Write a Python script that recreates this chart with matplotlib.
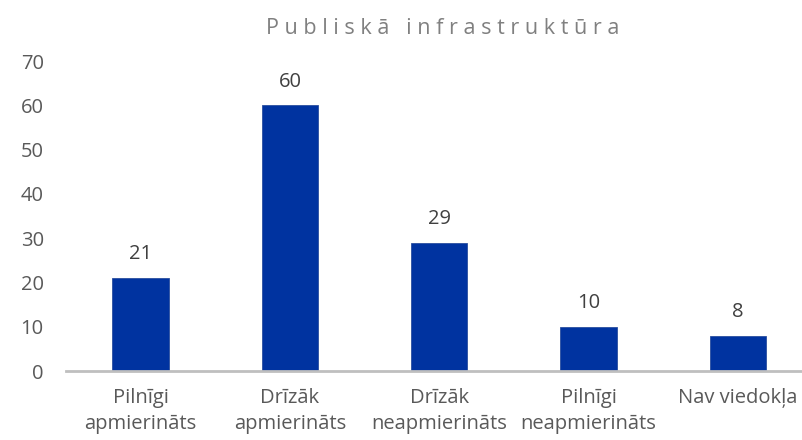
import matplotlib
matplotlib.use("Agg")
import matplotlib.pyplot as plt

categories = ["Pilnīgi\napmierināts", "Drīzāk\napmierināts", "Drīzāk\nneapmierināts",
              "Pilnīgi\nneapmierināts", "Nav viedokļa"]
values = [21, 60, 29, 10, 8]
title = "Publiskā infrastruktūra"

plt.rcParams['font.family'] = ['Open Sans', 'DejaVu Sans']

fig = plt.figure(figsize=(8.02, 4.40), dpi=100)
ax = fig.add_axes([66 / 802, 69 / 440, 1 - 66 / 802, 310 / 440])

x = range(len(categories))
ax.bar(x, values, width=0.378, color="#0033A0", edgecolor="#2a4f9e", linewidth=0.6, zorder=2)
for i, v in zip(x, values):
    ax.annotate(str(v), (i, v), xytext=(0, 17), textcoords='offset points',
                ha='center', va='center', fontsize=14.5, color="#404040")

ax.set_xlim(-0.5, 4.43)
ax.set_ylim(0, 70)
ax.set_yticks(range(0, 71, 10))
ax.set_xticks(list(x))
ax.set_xticklabels(categories, fontsize=14.5, color="#595959", linespacing=1.4)
ax.tick_params(axis='y', labelsize=14.5, labelcolor="#595959", length=0, pad=16)
ax.tick_params(axis='x', length=0, pad=12)
for s in ['top', 'right', 'left']:
    ax.spines[s].set_visible(False)
ax.spines['bottom'].set_color("#bfbfbf")
ax.spines['bottom'].set_linewidth(2)
ax.spines['bottom'].set_zorder(3)

fig.text(443 / 802, 1 - 29 / 440, " ".join(title), ha='center', va='center',
         fontsize=15.5, color="#808080")

fig.savefig("out.png", dpi=100)
